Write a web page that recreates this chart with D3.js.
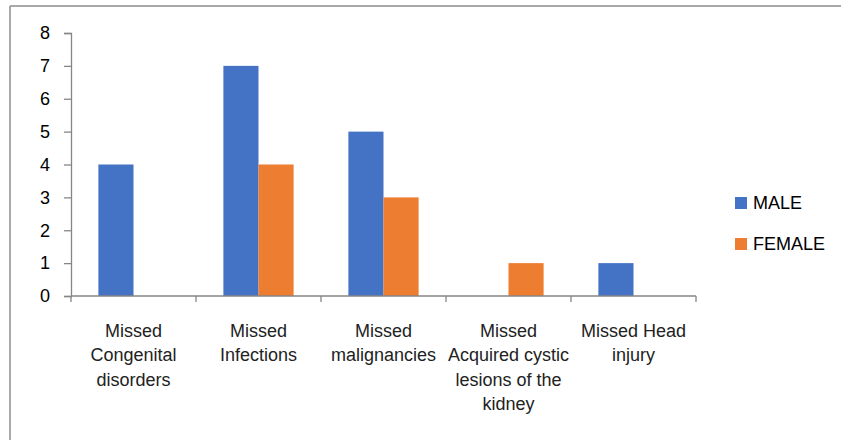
<!DOCTYPE html>
<html>
<head>
<meta charset="utf-8">
<script src="https://cdn.jsdelivr.net/npm/d3@7"></script>
<style>
  body { margin: 0; background: #fff; }
  svg { display: block; font-family: "Liberation Sans", Arial, sans-serif; }
</style>
</head>
<body>
<div id="main_chart"></div>
<script>
const categories = [
  ["Missed", "Congenital", "disorders"],
  ["Missed", "Infections"],
  ["Missed", "malignancies"],
  ["Missed", "Acquired cystic", "lesions of the", "kidney"],
  ["Missed Head", "injury"]
];
const seriesNames = ["MALE", "FEMALE"];
const maleValues = [4, 7, 5, 0, 1];
const femaleValues = [0, 4, 3, 1, 0];
const yTicks = [0, 1, 2, 3, 4, 5, 6, 7, 8];
const colors = ["#4472C4", "#ED7D31"];

const width = 841;
const height = 440;
const marginLeft = 71;
const marginRight = 145;
const marginTop = 33;
const plotBottom = 296;

const values = [maleValues, femaleValues];

// x scale for the category bands
const xScale = d3.scaleBand()
  .domain(d3.range(categories.length))
  .range([marginLeft, width - marginRight])
  .padding(0);

// bars inside each band
const xInner = d3.scaleBand()
  .domain(d3.range(seriesNames.length))
  .range([0, xScale.bandwidth()])
  .paddingOuter(0.78)
  .paddingInner(0);

const yScale = d3.scaleLinear()
  .domain([0, 8])
  .range([plotBottom, marginTop]);

const svg = d3.create("svg").attr("width", width).attr("height", height);

// outer frame (only top and left visible)
svg.append("line")
  .attr("x1", 10).attr("x2", width).attr("y1", 6).attr("y2", 6)
  .attr("stroke", "#8c8c8c").attr("stroke-width", 1.5);
svg.append("line")
  .attr("x1", 10).attr("x2", 10).attr("y1", 6).attr("y2", height)
  .attr("stroke", "#8c8c8c").attr("stroke-width", 1.5);

// bars
values.forEach((vals, s) => {
  svg.append("g")
    .attr("fill", colors[s])
    .selectAll("rect")
    .data(vals)
    .join("rect")
    .attr("x", (d, i) => xScale(i) + xInner(s))
    .attr("width", xInner.bandwidth())
    .attr("y", (d) => yScale(d))
    .attr("height", (d) => yScale(0) - yScale(d));
});

// y axis
const yAxis = svg.append("g")
  .attr("transform", `translate(${marginLeft},0)`)
  .call(d3.axisLeft(yScale).tickValues(yTicks).tickSize(7).tickPadding(14).tickFormat(d3.format("d")));
yAxis.select(".domain").attr("stroke", "#868686").attr("stroke-width", 1.3);
yAxis.selectAll(".tick line").attr("stroke", "#868686").attr("stroke-width", 1.3);
yAxis.selectAll(".tick text")
  .attr("font-size", 18).attr("fill", "#000")
  .attr("font-family", "'Liberation Sans', Arial, sans-serif");

// x axis
const xAxis = svg.append("g")
  .attr("transform", `translate(0,${plotBottom})`);
xAxis.append("line")
  .attr("x1", marginLeft).attr("x2", width - marginRight)
  .attr("stroke", "#868686").attr("stroke-width", 1.3);
const sepPositions = d3.range(categories.length + 1).map((i) =>
  i < categories.length ? xScale(i) : xScale(i - 1) + xScale.bandwidth());
xAxis.selectAll("line.sep")
  .data(sepPositions)
  .join("line")
  .attr("class", "sep")
  .attr("x1", (d) => d).attr("x2", (d) => d)
  .attr("y1", 0).attr("y2", 6)
  .attr("stroke", "#868686").attr("stroke-width", 1.3);

// category labels
categories.forEach((lines, i) => {
  const t = svg.append("text")
    .attr("text-anchor", "middle")
    .attr("font-size", 18)
    .attr("fill", "#222");
  lines.forEach((ln, k) => {
    t.append("tspan")
      .attr("x", xScale(i) + xScale.bandwidth() / 2)
      .attr("y", 337 + k * 24.4)
      .text(ln);
  });
});

// legend
const legend = svg.append("g");
seriesNames.forEach((name, s) => {
  const yy = 203 + s * 41;
  legend.append("rect")
    .attr("x", 735).attr("y", yy - 6)
    .attr("width", 12).attr("height", 12)
    .attr("fill", colors[s]);
  legend.append("text")
    .attr("x", 753).attr("y", yy)
    .attr("dy", "0.36em")
    .attr("font-size", 18)
    .attr("fill", "#000")
    .text(name);
});

document.getElementById("main_chart").append(svg.node());
</script>
</body>
</html>
